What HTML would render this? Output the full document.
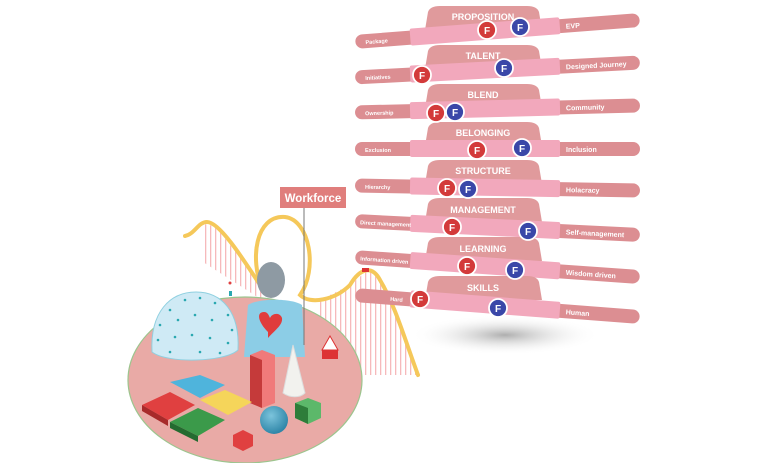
<!DOCTYPE html>
<html><head><meta charset="utf-8"><style>
html,body{margin:0;padding:0;background:#fff;}
svg{display:block;font-family:"Liberation Sans",sans-serif;}
</style></head><body>
<svg width="768" height="463" viewBox="0 0 768 463" xmlns="http://www.w3.org/2000/svg">
<defs>
<radialGradient id="sh" cx="50%" cy="50%" r="50%"><stop offset="0" stop-color="#9a9a9a" stop-opacity=".8"/><stop offset="1" stop-color="#fff" stop-opacity="0"/></radialGradient>
<pattern id="vl" width="5" height="10" patternUnits="userSpaceOnUse"><rect x="0" y="0" width="1.3" height="10" fill="#f08a8e"/></pattern>
<radialGradient id="sp" cx="40%" cy="35%" r="65%"><stop offset="0" stop-color="#7cc4dc"/><stop offset="1" stop-color="#2f86a8"/></radialGradient>
</defs>
<ellipse cx="505" cy="335" rx="95" ry="20" fill="url(#sh)"/>
<path d="M203,224 L215,226 L262,285 L262,300 L203,262Z" fill="url(#vl)" opacity=".6"/>
<path d="M320,300 L350,285 L368,270 L385,285 L418,375 L320,375Z" fill="url(#vl)" opacity=".6"/>
<ellipse cx="245" cy="380" rx="117" ry="83" fill="#e9aaa6" stroke="#9cc58e" stroke-width="1.2"/>
<path d="M185,236 C195,234 198,222 207,222 C220,222 245,262 262,288 C250,260 255,215 285,217 C310,220 318,270 300,295 C310,305 335,300 350,285 C360,268 372,265 380,280 C395,305 405,340 418,375" fill="none" stroke="#f5c85a" stroke-width="4" stroke-linecap="round"/>
<rect x="362" y="268" width="7" height="4" fill="#d33"/>
<path d="M152,352 C150,312 170,292 196,292 C222,292 240,312 238,350 C225,362 168,364 152,352Z" fill="#cfeaf5" stroke="#8fd0e0"/>
<g fill="#2aa8b0">
<circle cx="170" cy="310" r="1.3"/><circle cx="185" cy="300" r="1.3"/><circle cx="200" cy="298" r="1.3"/><circle cx="215" cy="303" r="1.3"/><circle cx="228" cy="315" r="1.3"/><circle cx="160" cy="325" r="1.3"/><circle cx="178" cy="320" r="1.3"/><circle cx="195" cy="315" r="1.3"/><circle cx="212" cy="320" r="1.3"/><circle cx="232" cy="330" r="1.3"/><circle cx="158" cy="340" r="1.3"/><circle cx="175" cy="337" r="1.3"/><circle cx="192" cy="335" r="1.3"/><circle cx="210" cy="338" r="1.3"/><circle cx="228" cy="343" r="1.3"/><circle cx="170" cy="352" r="1.3"/><circle cx="200" cy="352" r="1.3"/><circle cx="220" cy="353" r="1.3"/></g>
<circle cx="230" cy="283" r="1.5" fill="#e04040"/><rect x="229" y="291" width="3" height="5" fill="#2aa8b0"/>
<path d="M244,357 L248,305 C258,298 292,298 302,305 L305,357Z" fill="#8ccde6"/>
<ellipse cx="271" cy="280" rx="14" ry="18" fill="#8e9aa3"/>
<path d="M268,332 C258,322 256,312 264,312 C268,312 269,316 270,318 C272,313 280,312 282,318 C283,325 275,330 268,338Z" fill="#e03c3c"/>
<line x1="304" y1="208" x2="304" y2="345" stroke="#777" stroke-width="1"/>
<rect x="280" y="187" width="66" height="21" fill="#e07e7c"/>
<text x="313" y="202" text-anchor="middle" font-size="11.5" font-weight="bold" fill="#fff">Workforce</text>
<path d="M322,350 L330,336 L338,350Z" fill="#fff" stroke="#d33"/>
<rect x="322" y="350" width="16" height="9" fill="#d33"/>
<path d="M250,355 L262,350 L275,355 L275,403 L262,408 L250,403Z" fill="#f07a7a"/>
<path d="M250,355 L262,360 L262,408 L250,403Z" fill="#c53a3a"/>
<path d="M293,345 L283,393 C290,398 300,398 305,393Z" fill="#f2f2ee" stroke="#ddd"/>
<path d="M170,382 L200,375 L225,385 L200,398 Z" fill="#4fb4dc"/>
<path d="M142,405 L170,392 L195,405 L168,420Z" fill="#e04040"/>
<path d="M200,400 L225,390 L252,402 L228,415Z" fill="#f5d55a"/>
<path d="M170,422 L198,408 L225,420 L198,436Z" fill="#3b9a4a"/>
<path d="M142,405 L168,420 L168,426 L142,411Z" fill="#a72a2a"/>
<path d="M170,422 L198,436 L198,442 L170,428Z" fill="#246b30"/>
<circle cx="274" cy="420" r="14" fill="url(#sp)"/>
<path d="M295,403 L308,398 L321,403 L321,418 L308,424 L295,418Z" fill="#5cb86a"/>
<path d="M295,403 L308,408 L308,424 L295,418Z" fill="#2e7d3a"/>
<path d="M233,435 L243,430 L253,435 L253,446 L243,451 L233,446Z" fill="#e04040"/>
<g font-weight="bold" fill="#fff">
<g>
<path d="M425,30 L428,12 Q430,6 440,6 L527,6 Q537,6 539,12 L542,30Z" fill="#e09a9c"/>
<text x="483" y="20" text-anchor="middle" font-size="9">PROPOSITION</text>
<g transform="rotate(-4.4 497 31)"><rect x="355" y="24" width="285" height="14" rx="7" fill="#dc8e92"/><rect x="410" y="22" width="150" height="17" rx="2" fill="#f2a8bc"/><text x="365" y="34" font-size="5.5">Package</text><text x="566" y="34" font-size="7">EVP</text></g>
</g>
<g>
<path d="M425,69 L428,51 Q430,45 440,45 L527,45 Q537,45 539,51 L542,69Z" fill="#e09a9c"/>
<text x="483" y="59" text-anchor="middle" font-size="9">TALENT</text>
<g transform="rotate(-3 497 70)"><rect x="355" y="63" width="285" height="14" rx="7" fill="#dc8e92"/><rect x="410" y="61" width="150" height="17" rx="2" fill="#f2a8bc"/><text x="365" y="73" font-size="5.5">Initiatives</text><text x="566" y="73" font-size="7">Designed Journey</text></g>
</g>
<g>
<path d="M425,108 L428,90 Q430,84 440,84 L527,84 Q537,84 539,90 L542,108Z" fill="#e09a9c"/>
<text x="483" y="98" text-anchor="middle" font-size="9">BLEND</text>
<g transform="rotate(-1.4 497 109)"><rect x="355" y="102" width="285" height="14" rx="7" fill="#dc8e92"/><rect x="410" y="100" width="150" height="17" rx="2" fill="#f2a8bc"/><text x="365" y="112" font-size="5.5">Ownership</text><text x="566" y="112" font-size="7">Community</text></g>
</g>
<g>
<path d="M425,146 L428,128 Q430,122 440,122 L527,122 Q537,122 539,128 L542,146Z" fill="#e09a9c"/>
<text x="483" y="136" text-anchor="middle" font-size="9">BELONGING</text>
<g><rect x="355" y="142" width="285" height="14" rx="7" fill="#dc8e92"/><rect x="410" y="140" width="150" height="17" rx="2" fill="#f2a8bc"/><text x="365" y="152" font-size="5.5">Exclusion</text><text x="566" y="152" font-size="7">Inclusion</text></g>
</g>
<g>
<path d="M425,184 L428,166 Q430,160 440,160 L527,160 Q537,160 539,166 L542,184Z" fill="#e09a9c"/>
<text x="483" y="174" text-anchor="middle" font-size="9">STRUCTURE</text>
<g transform="rotate(1 497 188)"><rect x="355" y="181" width="285" height="14" rx="7" fill="#dc8e92"/><rect x="410" y="179" width="150" height="17" rx="2" fill="#f2a8bc"/><text x="365" y="191" font-size="5.5">Hierarchy</text><text x="566" y="191" font-size="7">Holacracy</text></g>
</g>
<g>
<path d="M425,222 L428,204 Q430,198 440,198 L527,198 Q537,198 539,204 L542,222Z" fill="#e09a9c"/>
<text x="483" y="213" text-anchor="middle" font-size="9">MANAGEMENT</text>
<g transform="rotate(2.8 497 228)"><rect x="355" y="221" width="285" height="14" rx="7" fill="#dc8e92"/><rect x="410" y="219" width="150" height="17" rx="2" fill="#f2a8bc"/><text x="360" y="231" font-size="5.5">Direct management</text><text x="566" y="231" font-size="7">Self-management</text></g>
</g>
<g>
<path d="M425,261 L428,243 Q430,237 440,237 L527,237 Q537,237 539,243 L542,261Z" fill="#e09a9c"/>
<text x="483" y="252" text-anchor="middle" font-size="9">LEARNING</text>
<g transform="rotate(4 497 267)"><rect x="355" y="260" width="285" height="14" rx="7" fill="#dc8e92"/><rect x="410" y="258" width="150" height="17" rx="2" fill="#f2a8bc"/><text x="360" y="270" font-size="5.5">Information driven</text><text x="566" y="270" font-size="7">Wisdom driven</text></g>
</g>
<g>
<path d="M425,300 L428,282 Q430,276 440,276 L527,276 Q537,276 539,282 L542,300Z" fill="#e09a9c"/>
<text x="483" y="291" text-anchor="middle" font-size="9">SKILLS</text>
<g transform="rotate(4.4 497 306)"><rect x="355" y="299" width="285" height="14" rx="7" fill="#dc8e92"/><rect x="410" y="297" width="150" height="17" rx="2" fill="#f2a8bc"/><text x="390" y="309" font-size="5.5">Hard</text><text x="566" y="309" font-size="7">Human</text></g>
</g>
</g>
<g stroke-width="1.8" stroke="#fff">
<circle cx="487" cy="30" r="9" fill="#d33a3a"/><circle cx="520" cy="27" r="9" fill="#3a47a8"/>
<circle cx="422" cy="75" r="9" fill="#d33a3a"/><circle cx="504" cy="68" r="9" fill="#3a47a8"/>
<circle cx="436" cy="113" r="9" fill="#d33a3a"/><circle cx="455" cy="112" r="9" fill="#3a47a8"/>
<circle cx="477" cy="150" r="9" fill="#d33a3a"/><circle cx="522" cy="148" r="9" fill="#3a47a8"/>
<circle cx="447" cy="188" r="9" fill="#d33a3a"/><circle cx="468" cy="189" r="9" fill="#3a47a8"/>
<circle cx="452" cy="227" r="9" fill="#d33a3a"/><circle cx="528" cy="231" r="9" fill="#3a47a8"/>
<circle cx="467" cy="266" r="9" fill="#d33a3a"/><circle cx="515" cy="270" r="9" fill="#3a47a8"/>
<circle cx="420" cy="299" r="9" fill="#d33a3a"/><circle cx="498" cy="308" r="9" fill="#3a47a8"/>
</g>
<g font-size="10" font-weight="bold" text-anchor="middle" fill="#fff">
<text x="487" y="34">F</text><text x="520" y="31">F</text>
<text x="422" y="79">F</text><text x="504" y="72">F</text>
<text x="436" y="117">F</text><text x="455" y="116">F</text>
<text x="477" y="154">F</text><text x="522" y="152">F</text>
<text x="447" y="192">F</text><text x="468" y="193">F</text>
<text x="452" y="231">F</text><text x="528" y="235">F</text>
<text x="467" y="270">F</text><text x="515" y="274">F</text>
<text x="420" y="303">F</text><text x="498" y="312">F</text>
</g>
</svg>
</body></html>
